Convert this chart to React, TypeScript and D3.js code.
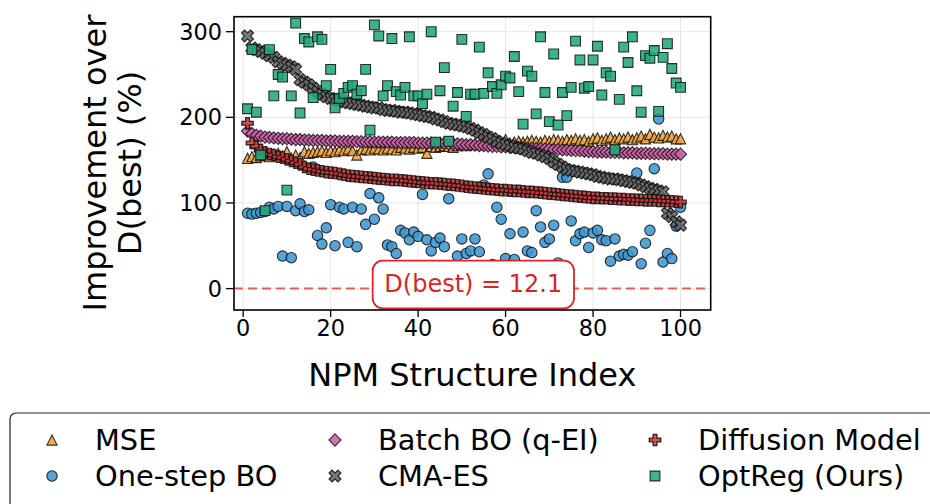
import * as d3 from "d3";

// improvement over D(best) (%) for each of the 100 NPM structures
const mse = [
  152, 154, 153, 155, 156, 154, 157, 158, 155, 160, 152, 156, 153, 160, 158, 159, 160, 161, 159, 161,
  160, 162, 161, 163, 161, 156, 162, 163, 162, 164, 163, 162, 164, 163, 162, 165, 164, 163, 165, 164,
  165, 158, 166, 165, 166, 167, 166, 165, 167, 168, 167, 168, 169, 168, 170, 169, 171, 170, 169, 174,
  170, 171, 172, 171, 172, 173, 172, 171, 173, 172, 174, 173, 172, 174, 173, 175, 173, 174, 172, 175,
  176, 173, 175, 177, 174, 176, 175, 177, 174, 176, 178, 175, 180, 177, 176, 179, 177, 178, 175, 175,
];
const oneStepBO = [
  88, 87, 88, 89, 90, 95, 93, 96, 38, 96, 36, 91, 99, 90, 92, 142, 62, 52, 71, 98,
  50, 95, 93, 54, 95, 49, 93, 75, 111, 81, 106, 93, 51, 49, 41, 68, 65, 57, 66, 61,
  110, 57, 44, 54, 59, 49, 105, 27, 38, 58, 41, 44, 58, 43, 121, 134, 28, 95, 81, 35,
  64, 34, 25, 66, 44, 42, 91, 72, 54, 58, 74, 30, 130, 130, 79, 56, 64, 66, 48, 65,
  68, 57, 56, 32, 58, 38, 40, 39, 43, 135, 29, 53, 68, 140, 198, 31, 41, 35, 73, 95,
];
const batchBO = [
  184, 181, 179, 178, 177, 176.5, 176, 175.5, 175, 175, 174.5, 174, 174, 173.5, 173.5, 173, 173, 173, 172.5, 172.5,
  172.5, 172, 172, 172, 172, 171.5, 171.5, 171.5, 171.5, 171, 171, 171, 171, 171, 170.5, 170.5, 170.5, 170.5, 170.5, 170,
  170, 170, 170, 169.5, 169.5, 169.5, 169, 169, 169, 168.5, 168, 168, 167.5, 167, 167, 166.5, 166, 166, 165.5, 165.5,
  165, 165, 164.5, 164.5, 164, 164, 163.5, 163.5, 163, 163, 162.5, 162.5, 162, 162, 161.5, 161, 161, 160.5, 160, 160,
  159.5, 159.5, 159.5, 159, 159, 159, 158.5, 158.5, 158.5, 158, 158, 158, 157.5, 157.5, 157.5, 157.5, 157, 157, 157, 157,
];
const cmaES = [
  295, 281, 279, 277, 275, 272, 270, 265, 263, 261, 259, 256, 244, 241, 238, 234, 230, 227, 224, 222,
  221, 219, 218, 217, 216, 215, 214, 213, 212, 211, 211, 209, 208, 208, 207, 206, 206, 205, 204, 203,
  202, 201, 200, 198, 197, 195, 193, 192, 191, 190, 189, 187, 185, 182, 180, 177, 175, 172, 170, 168,
  167, 165, 164, 163, 161, 159, 158, 156, 154, 152, 148, 145, 142, 139, 138, 137, 136, 135, 134, 133,
  131, 130, 129, 128, 128, 127, 126, 125, 124, 123, 121, 119, 117, 116, 114, 113, 88, 84, 78, 74,
];
const diffusion = [
  193, 170, 166, 162, 159, 157, 156, 154, 153, 151, 149, 147, 145, 142, 140, 139, 138, 137, 136, 135.5,
  135, 134, 133, 132, 131.5, 131, 130.5, 130, 129.5, 129, 128.5, 128, 127.5, 127, 127, 126.5, 126, 125.5, 125, 124.5,
  124, 123.5, 123, 123, 122.5, 122, 121.5, 121, 120.5, 120, 119, 118.5, 118, 117.5, 117, 116.5, 116, 115.5, 115, 115,
  114.5, 114, 114, 113.5, 113, 113, 112.5, 112, 111.5, 111, 110.5, 110, 109.5, 109, 108.5, 108, 107.5, 107, 106.5, 106,
  106, 105.5, 105.5, 105, 105, 104.5, 104.5, 104, 104, 103.5, 103.5, 103, 103, 103, 102.5, 102.5, 102, 102, 101.5, 101,
];
const optReg = [
  210, 279, 206, 156, 91, 279, 225, 250, 247, 115, 225, 310, 205, 292, 288, 223, 294, 291, 237, 256,
  211, 222, 228, 235, 237, 227, 231, 256, 185, 308, 295, 225, 237, 292, 230, 226, 235, 294, 225, 225,
  216, 227, 300, 171, 231, 258, 172, 213, 229, 291, 201, 227, 227, 282, 228, 252, 236, 228, 238, 248,
  246, 271, 230, 192, 254, 248, 204, 294, 229, 195, 274, 191, 229, 202, 235, 289, 267, 234, 236, 267,
  283, 226, 252, 248, 162, 221, 282, 264, 294, 231, 206, 272, 269, 278, 207, 270, 286, 257, 240, 235,
];

const xTicks = [0, 20, 40, 60, 80, 100];
const yTicks = [0, 100, 200, 300];
const dBest = 12.1;

const font = "DejaVu Sans, sans-serif";

// marker outlines, matplotlib style
const tri = (r: number) => `M0,${-r}L${r},${r}L${-r},${r}Z`;
const square = (r: number) => `M${-r},${-r}H${r}V${r}H${-r}Z`;
const diamond = (r: number) => `M0,${-r}L${r},0L0,${r}L${-r},0Z`;
const circle = (r: number) => `M${r},0A${r},${r} 0 1 1 ${-r},0A${r},${r} 0 1 1 ${r},0Z`;
const plusPts = (r: number) => {
  const t = r / 3;
  return [
    [-t, -r], [t, -r], [t, -t], [r, -t], [r, t], [t, t],
    [t, r], [-t, r], [-t, t], [-r, t], [-r, -t], [-t, -t],
  ];
};
const plus = (r: number) => "M" + plusPts(r).map((p) => p.join(",")).join("L") + "Z";
const cross = (r: number) => {
  const c = Math.SQRT1_2;
  return "M" + plusPts(r).map(([a, b]) => `${(a - b) * c},${(a + b) * c}`).join("L") + "Z";
};

const series = [
  { name: "MSE", data: mse, color: "#f2a33a", path: tri(5.1), sw: 1.1 },
  { name: "One-step BO", data: oneStepBO, color: "#3f96cf", path: circle(5.2), sw: 1.1 },
  { name: "Batch BO (q-EI)", data: batchBO, color: "#cc5fa6", path: diamond(6.1), sw: 1.1 },
  { name: "CMA-ES", data: cmaES, color: "#686868", path: cross(6.3), sw: 1.2 },
  { name: "Diffusion Model", data: diffusion, color: "#cf3535", path: plus(5.7), sw: 1.3 },
  { name: "OptReg (Ours)", data: optReg, color: "#21a97c", path: square(4.9), sw: 1.1 },
];

export default function App() {
  const x = d3.scaleLinear().domain([-2.1, 106.9]).range([234, 710.7]);
  const y = d3.scaleLinear().domain([-25, 317.5]).range([310, 16.7]);
  const [x0, x1] = x.range();
  const [y0, y1] = y.range();
  const labelMid = (x0 + x1) / 2;

  const legendCols = [52, 335, 655];
  const legendRows = [440, 476];

  return (
    <svg
      width={930}
      height={504}
      style={{ position: "absolute", left: 0, top: 0, background: "#fff" }}
      fontFamily={font}
    >
      <rect width={930} height={504} fill="#fff" />

      {/* grid */}
      <g stroke="#e6e6e6" strokeWidth={1}>
        {xTicks.map((t) => (
          <line key={"gx" + t} x1={x(t)} x2={x(t)} y1={y1} y2={y0} />
        ))}
        {yTicks.map((t) => (
          <line key={"gy" + t} x1={x0} x2={x1} y1={y(t)} y2={y(t)} />
        ))}
      </g>

      {/* baseline for D(best) */}
      <line
        x1={x0}
        x2={x1}
        y1={y(0)}
        y2={y(0)}
        stroke="#e04545"
        strokeOpacity={0.85}
        strokeWidth={2}
        strokeDasharray="9,5"
      />

      {series.map((s) => (
        <g key={s.name}>
          {s.data.map((v, i) => (
            <path
              key={i}
              d={s.path}
              transform={`translate(${x(i + 1)},${y(v)})`}
              fill={s.color}
              fillOpacity={0.88}
              stroke="#111"
              strokeOpacity={0.85}
              strokeWidth={s.sw}
            />
          ))}
        </g>
      ))}

      {/* annotation box */}
      <rect x={372.7} y={260.7} width={201.3} height={47.6} rx={10} fill="#fff" stroke="#d62728" strokeWidth={1.8} />
      <text x={473.3} y={291.5} textAnchor="middle" fontSize={24} fill="#d62728">
        D(best) = {dBest}
      </text>

      {/* frame */}
      <rect x={x0} y={y1} width={x1 - x0} height={y0 - y1} fill="none" stroke="#000" strokeWidth={1.6} />

      {/* x axis */}
      {xTicks.map((t) => (
        <g key={"tx" + t}>
          <line x1={x(t)} x2={x(t)} y1={y0} y2={y0 + 7} stroke="#000" strokeWidth={1.3} />
          <text x={x(t)} y={336} textAnchor="middle" fontSize={22.4} fill="#000">
            {t}
          </text>
        </g>
      ))}
      {/* y axis */}
      {yTicks.map((t) => (
        <g key={"ty" + t}>
          <line x1={x0 - 8} x2={x0} y1={y(t)} y2={y(t)} stroke="#000" strokeWidth={1.3} />
          <text x={222} y={y(t) + 8} textAnchor="end" fontSize={22.4} fill="#000">
            {t}
          </text>
        </g>
      ))}

      <text x={labelMid} y={386} textAnchor="middle" fontSize={32} fill="#000">
        NPM Structure Index
      </text>
      <text transform={`translate(106,163) rotate(-90)`} textAnchor="middle" fontSize={32} fill="#000">
        Improvement over
      </text>
      <text transform={`translate(141,163) rotate(-90)`} textAnchor="middle" fontSize={32} fill="#000">
        D(best) (%)
      </text>

      {/* legend */}
      <rect x={10} y={413} width={960} height={120} rx={6} fill="#fff" stroke="#222" strokeWidth={1.2} />
      {series.map((s, k) => {
        const cx = legendCols[Math.floor(k / 2)];
        const cy = legendRows[k % 2];
        return (
          <g key={"lg" + s.name}>
            <path
              d={s.path}
              transform={`translate(${cx},${cy})`}
              fill={s.color}
              fillOpacity={0.88}
              stroke="#111"
              strokeOpacity={0.85}
              strokeWidth={s.sw}
            />
            <text x={cx + 43} y={cy + 10} fontSize={28.8} fill="#000">
              {s.name}
            </text>
          </g>
        );
      })}
    </svg>
  );
}
